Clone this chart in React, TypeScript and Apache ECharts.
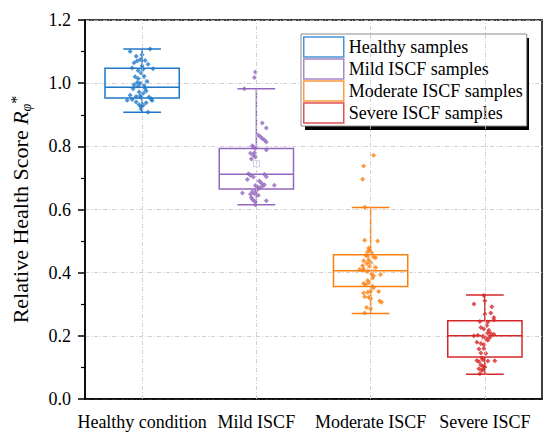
import React, { useEffect, useRef } from "react";
import * as echarts from "echarts";

const categories = ["Healthy condition", "Mild ISCF", "Moderate ISCF", "Severe ISCF"];
const sampleNames = ["Healthy samples", "Mild ISCF samples", "Moderate ISCF samples", "Severe ISCF samples"];
const colors = ["#1f78c8", "#9467bd", "#ff7f0e", "#d62728"];
const meanColors = ["#a9c9ea", "#cdb8e2", "#fbc894", "#f0a0a0"];
const yTicks = { min: 0, max: 1.2, interval: 0.2 };

// [min, Q1, median, Q3, max]
const boxStats = [
  [0.908, 0.953, 0.987, 1.047, 1.108],
  [0.615, 0.665, 0.712, 0.793, 0.982],
  [0.271, 0.356, 0.406, 0.457, 0.606],
  [0.078, 0.133, 0.2, 0.248, 0.329],
];
const means = [1.005, 0.745, 0.419, 0.196];

// [jitter (category units), value]
const healthyPoints = [
  [-0.105, 1.1], [0.07, 1.108], [0.0, 1.09], [-0.017, 1.075], [-0.044, 1.07], [-0.07, 1.065], [0.026, 1.072],
  [0.052, 1.06], [-0.087, 1.048], [0.009, 1.044], [0.096, 1.046], [-0.009, 1.032], [-0.061, 1.02], [-0.035, 1.015],
  [0.017, 1.022], [-0.044, 1.002], [-0.017, 1.0], [-0.035, 0.99], [-0.079, 0.982], [0.026, 0.984], [-0.026, 0.972],
  [0.009, 0.968], [0.035, 0.975], [-0.052, 0.958], [-0.009, 0.955], [0.061, 0.956], [0.079, 0.95], [-0.131, 0.946],
  [-0.087, 0.948], [-0.052, 0.94], [0.087, 0.945], [-0.026, 0.932], [-0.009, 0.925], [0.009, 0.93], [-0.009, 0.918],
  [0.052, 0.908], [-0.07, 0.995], [0.044, 1.005], [-0.105, 0.962], [0.0, 1.055], [-0.052, 1.085], [0.035, 0.938],
  [-0.017, 0.96], [0.017, 0.992], [-0.035, 1.04],
];
const mildPoints = [
  [-0.009, 1.035], [-0.017, 1.018], [-0.105, 0.982], [0.052, 0.874], [0.087, 0.858], [0.017, 0.836], [0.035, 0.83],
  [0.052, 0.825], [0.07, 0.82], [0.087, 0.814], [-0.035, 0.802], [-0.026, 0.797], [-0.009, 0.793], [0.087, 0.788],
  [-0.052, 0.778], [-0.026, 0.772], [-0.009, 0.766], [-0.044, 0.76], [-0.017, 0.78], [-0.07, 0.713], [-0.052, 0.708],
  [-0.026, 0.703], [0.07, 0.712], [0.087, 0.704], [0.026, 0.69], [0.044, 0.684], [-0.009, 0.676], [0.009, 0.672],
  [0.026, 0.668], [0.052, 0.674], [0.07, 0.678], [0.157, 0.677], [-0.035, 0.656], [-0.017, 0.65], [0.0, 0.66],
  [-0.052, 0.648], [-0.122, 0.652], [-0.044, 0.638], [-0.035, 0.632], [-0.017, 0.626], [0.087, 0.628],
  [-0.009, 0.615], [0.017, 0.645], [-0.079, 0.695],
];
const moderatePoints = [
  [0.026, 0.772], [-0.061, 0.738], [-0.07, 0.696], [-0.052, 0.607], [-0.052, 0.503], [0.061, 0.5], [-0.017, 0.478],
  [-0.009, 0.472], [-0.026, 0.466], [0.009, 0.462], [-0.044, 0.455], [-0.026, 0.452], [0.026, 0.45], [0.044, 0.447],
  [-0.061, 0.438], [-0.017, 0.44], [0.0, 0.433], [-0.07, 0.422], [-0.009, 0.42], [0.044, 0.416], [-0.096, 0.41],
  [-0.07, 0.408], [-0.061, 0.412], [-0.026, 0.404], [0.009, 0.396], [0.026, 0.39], [0.087, 0.394], [-0.026, 0.375],
  [-0.061, 0.366], [-0.044, 0.362], [-0.017, 0.368], [0.017, 0.357], [0.026, 0.352], [0.0, 0.342], [-0.026, 0.338],
  [-0.061, 0.336], [0.07, 0.34], [-0.052, 0.324], [-0.017, 0.322], [0.0, 0.318], [0.079, 0.31], [0.096, 0.306],
  [-0.035, 0.29], [0.0, 0.286], [-0.052, 0.272], [-0.035, 0.43], [0.017, 0.383],
];
const severePoints = [
  [-0.009, 0.328], [-0.096, 0.301], [0.0, 0.311], [0.061, 0.292], [0.052, 0.272], [0.0, 0.268], [0.079, 0.258],
  [0.079, 0.25], [-0.044, 0.245], [0.026, 0.244], [-0.035, 0.226], [-0.009, 0.222], [0.035, 0.218], [0.026, 0.21],
  [0.052, 0.207], [0.079, 0.205], [-0.096, 0.2], [-0.061, 0.202], [-0.017, 0.198], [0.009, 0.192], [0.026, 0.186],
  [-0.035, 0.176], [-0.009, 0.172], [-0.052, 0.158], [-0.009, 0.16], [-0.035, 0.146], [0.009, 0.144], [-0.07, 0.122],
  [-0.052, 0.118], [-0.017, 0.124], [0.026, 0.12], [0.087, 0.121], [-0.035, 0.108], [-0.017, 0.104], [0.0, 0.101],
  [-0.052, 0.096], [-0.017, 0.094], [-0.044, 0.08], [-0.026, 0.09], [0.017, 0.233], [-0.07, 0.18], [0.044, 0.195],
  [-0.026, 0.13],
];
const pointGroups = [healthyPoints, mildPoints, moderatePoints, severePoints];

const FONT = "'Liberation Serif', 'DejaVu Serif', serif";
const gridDash = [4, 2, 1, 2];

export default function App() {
  const ref = useRef<HTMLDivElement>(null);
  useEffect(() => {
    document.body.style.margin = "0";
    const chart = echarts.init(ref.current!, undefined, { renderer: "svg" });
    const boxData = boxStats.map((s, i) => [i, ...s]);
    const lbl = (size: number, extra: any = {}) => ({ fontFamily: FONT, fontSize: size, color: "#000", ...extra });
    const option: any = {
      animation: false,
      backgroundColor: "#fff",
      textStyle: { fontFamily: FONT },
      grid: { left: 84, right: 8, top: 20, bottom: 44, show: true, borderColor: "#000", borderWidth: 1.5, backgroundColor: "transparent" },
      graphic: [
        { type: "rect", z: 3, left: 305, top: 38, shape: { width: 224, height: 92 }, style: { fill: "#000" }, silent: true },
      ],
      legend: {
        orient: "vertical",
        left: 301,
        top: 34,
        z: 5,
        padding: [2, 4, 2, 2],
        itemGap: 0,
        itemWidth: 40,
        itemHeight: 20,
        icon: "rect",
        backgroundColor: "#fff",
        borderColor: "#8a8a8a",
        borderWidth: 1,
        textStyle: lbl(18, { lineHeight: 22 }),
        data: sampleNames.map((n, i) => ({
          name: n,
          itemStyle: { color: "#fff", borderColor: colors[i], borderWidth: 1.5 },
        })),
      },
      xAxis: [
        {
          type: "category",
          data: categories,
          boundaryGap: true,
          axisLine: { onZero: false, lineStyle: { color: "#000", width: 1.5 } },
          axisTick: { alignWithLabel: true, length: 7, lineStyle: { color: "#000", width: 1.5 } },
          axisLabel: lbl(18, { interval: 0, margin: 14 }),
          splitLine: { show: false },
        },
        { type: "value", min: -0.5, max: 3.5, show: false, splitLine: { show: false } },
      ],
      yAxis: {
        type: "value",
        min: yTicks.min,
        max: yTicks.max,
        interval: yTicks.interval,
        name: "{a|Relative Health Score }{i|R}{s|φ}{t|*}",
        nameLocation: "middle",
        nameGap: 52,
        nameTextStyle: {
          fontFamily: FONT,
          color: "#000",
          rich: {
            a: lbl(22),
            i: lbl(22, { fontStyle: "italic" }),
            s: lbl(14, { fontStyle: "italic", padding: [12, 0, 0, 0] }),
            t: lbl(16, { padding: [0, 0, 8, 0] }),
          },
        },
        axisLine: { show: true, onZero: false, lineStyle: { color: "#000", width: 1.5 } },
        axisTick: { length: 7, lineStyle: { color: "#000", width: 1.5 } },
        minorTick: { show: true, splitNumber: 2, length: 4, lineStyle: { color: "#000", width: 1.2 } },
        axisLabel: lbl(18, { margin: 14, formatter: (v: number) => v.toFixed(1) }),
        splitLine: { show: true, lineStyle: { color: "#c4c4c4", width: 0.8, type: gridDash } },
      },
      series: [
        {
          type: "scatter",
          name: "grid",
          xAxisIndex: 1,
          data: [],
          z: 1,
          silent: true,
          markLine: {
            silent: true,
            symbol: ["none", "none"],
            label: { show: false },
            lineStyle: { color: "#c4c4c4", width: 0.8, type: gridDash },
            data: categories.map((_, i) => ({ xAxis: i })),
          },
        },
        {
          type: "custom",
          name: "box",
          xAxisIndex: 0,
          z: 2,
          data: boxData,
          encode: { x: 0, y: [1, 2, 3, 4, 5] },
          renderItem: (params: any, api: any) => {
            const x = api.value(0);
            const lo = api.coord([x, api.value(1)]);
            const q1 = api.coord([x, api.value(2)]);
            const md = api.coord([x, api.value(3)]);
            const q3 = api.coord([x, api.value(4)]);
            const hi = api.coord([x, api.value(5)]);
            const band = api.size([1, 0])[0];
            const bw = band * 0.65;
            const cw = band * 0.33;
            const cx = lo[0];
            const style = { stroke: colors[params.dataIndex], lineWidth: 1.5, fill: "none" };
            return {
              type: "group",
              children: [
                { type: "rect", shape: { x: cx - bw / 2, y: q3[1], width: bw, height: q1[1] - q3[1] }, style },
                { type: "line", shape: { x1: cx - bw / 2, y1: md[1], x2: cx + bw / 2, y2: md[1] }, style },
                { type: "line", shape: { x1: cx, y1: q3[1], x2: cx, y2: hi[1] }, style },
                { type: "line", shape: { x1: cx, y1: q1[1], x2: cx, y2: lo[1] }, style },
                { type: "line", shape: { x1: cx - cw / 2, y1: hi[1], x2: cx + cw / 2, y2: hi[1] }, style },
                { type: "line", shape: { x1: cx - cw / 2, y1: lo[1], x2: cx + cw / 2, y2: lo[1] }, style },
              ],
            };
          },
        },
        {
          type: "scatter",
          name: "mean",
          xAxisIndex: 1,
          z: 3,
          symbol: "rect",
          symbolSize: 6,
          data: means.map((m, i) => ({
            value: [i, m],
            itemStyle: { color: "#fff", borderColor: meanColors[i], borderWidth: 1 },
          })),
        },
        ...pointGroups.map((pts, i) => ({
          type: "scatter",
          name: sampleNames[i],
          xAxisIndex: 1,
          z: 4,
          symbol: "diamond",
          symbolSize: 5,
          itemStyle: { color: colors[i] },
          data: pts.map((p) => [i + p[0], p[1]]),
        })),
      ],
    };
    chart.setOption(option);
    return () => chart.dispose();
  }, []);
  return <div ref={ref} style={{ position: "fixed", left: 0, top: 0, width: 550, height: 443 }} />;
}
